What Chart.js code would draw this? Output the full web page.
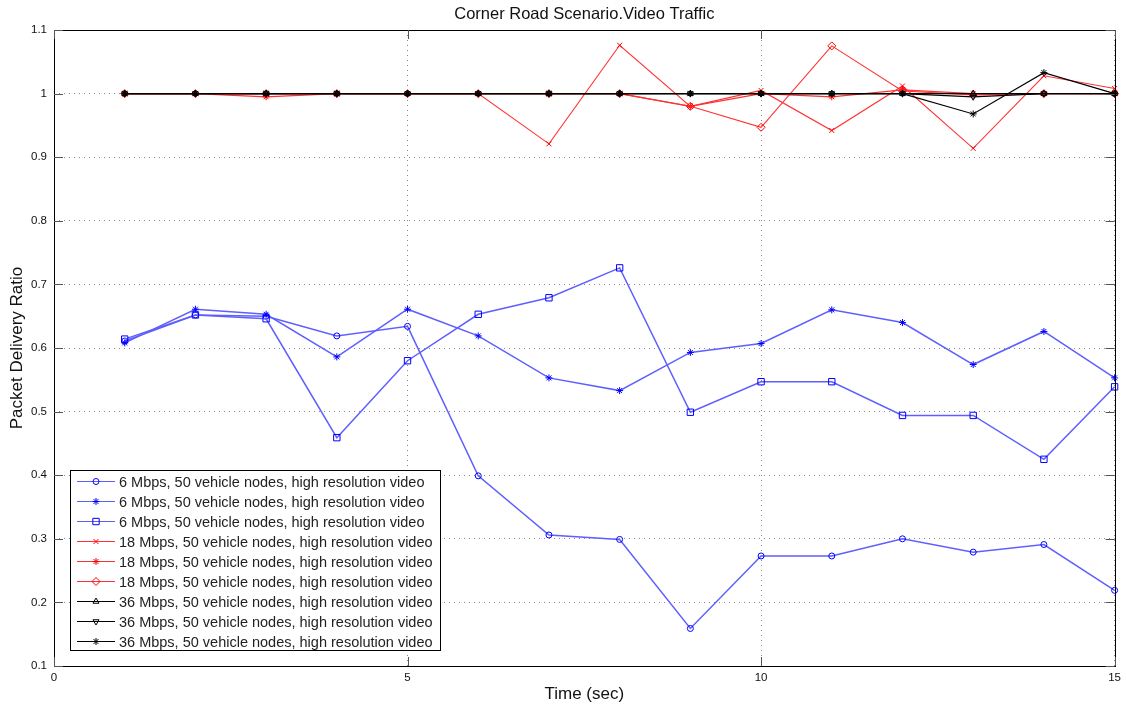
<!DOCTYPE html>
<html>
<head>
<meta charset="utf-8">
<script src="https://cdn.jsdelivr.net/npm/chart.js@4/dist/chart.umd.min.js"></script>
<style>
  body { margin: 0; background: #fff; }
  #wrap { width: 1126px; height: 708px; }
</style>
</head>
<body>
<div id="wrap"><canvas id="grafico" width="1126" height="708"></canvas></div>
<script>
// time (sec)
const tempos = [1,2,3,4,5,6,7,8,9,10,11,12,13,14,15];
const xTicks = [0,5,10,15];
const yTicks = [0.1,0.2,0.3,0.4,0.5,0.6,0.7,0.8,0.9,1.0,1.1];

const legenda = [
  '6 Mbps, 50 vehicle nodes, high resolution video',
  '6 Mbps, 50 vehicle nodes, high resolution video',
  '6 Mbps, 50 vehicle nodes, high resolution video',
  '18 Mbps, 50 vehicle nodes, high resolution video',
  '18 Mbps, 50 vehicle nodes, high resolution video',
  '18 Mbps, 50 vehicle nodes, high resolution video',
  '36 Mbps, 50 vehicle nodes, high resolution video',
  '36 Mbps, 50 vehicle nodes, high resolution video',
  '36 Mbps, 50 vehicle nodes, high resolution video'
];

// 6 Mbps
const azulCirculo = [0.611,0.652,0.650,0.619,0.634,0.399,0.306,0.299,0.159,0.273,0.273,0.300,0.279,0.291,0.219];
const azulEstrela = [0.608,0.661,0.653,0.586,0.661,0.619,0.553,0.533,0.593,0.607,0.660,0.640,0.574,0.626,0.553];
const azulQuadrado = [0.614,0.652,0.646,0.459,0.580,0.653,0.679,0.726,0.499,0.547,0.547,0.494,0.494,0.425,0.539];
// 18 Mbps
const vermelhoX = [1,1,1,1,1,1,0.921,1.076,0.980,1.005,0.942,1.012,0.914,1.028,1.008];
const vermelhoEstrela = [1,1,0.995,1,1,1,1,1,0.980,1.000,0.995,1.006,1.000,1.000,1.000];
const vermelhoLosango = [1,1,1,1,1,1,1,1,0.980,0.947,1.075,1.004,0.998,1.000,1.000];
// 36 Mbps
const pretoTriangulo = [1,1,1,1,1,1,1,1,1,1,1,1,1,1,1];
const pretoTrianguloInv = [1,1,1,1,1,1,1,1,1,1,1,1,0.995,1,1];
const pretoEstrela = [1,1,1,1,1,1,1,1,1,1,1,1,0.968,1.033,1.000];

const azul = 'rgb(95,95,255)';
const vermelho = 'rgb(255,50,50)';
const preto = '#000';

const raios = { circle: 3, star: 3.5, rect: 4.5, crossRot: 3.5, rectRot: 4, triangle: 3.5 };

function serie(i, valores, cor, marcador, pontoCor, rot, larg) {
  return {
    label: legenda[i],
    data: tempos.map((t, k) => ({x: t, y: valores[k]})),
    borderColor: cor,
    borderWidth: larg,
    backgroundColor: 'transparent',
    pointStyle: marcador,
    pointRotation: rot || 0,
    pointRadius: raios[marcador],
    pointBorderWidth: 1,
    pointBorderColor: pontoCor,
    pointBackgroundColor: marcador === 'star' ? pontoCor : 'rgba(0,0,0,0)',
    tension: 0,
    clip: false,
    order: 8 - i
  };
}

const fonte = 'Liberation Sans, Arial, sans-serif';

// legend box drawn inside the plot, like the original
const caixaLegenda = {
  id: 'caixaLegenda',
  afterDraw(chart) {
    const ctx = chart.ctx;
    const x0 = 70, y0 = 470, w = 370, h = 180;
    ctx.save();
    ctx.fillStyle = '#fff';
    ctx.fillRect(x0, y0, w, h);
    ctx.strokeStyle = '#000';
    ctx.lineWidth = 1;
    ctx.strokeRect(x0 + 0.5, y0 + 0.5, w, h);
    ctx.font = '14.5px ' + fonte;
    ctx.textBaseline = 'middle';
    chart.data.datasets.forEach((ds, i) => {
      const y = y0 + 11.5 + i * 20;
      ctx.strokeStyle = ds.borderColor;
      ctx.lineWidth = 1.2;
      ctx.beginPath();
      ctx.moveTo(77, y);
      ctx.lineTo(115, y);
      ctx.stroke();
      ctx.strokeStyle = ds.pointBorderColor;
      ctx.fillStyle = ds.pointBackgroundColor;
      ctx.lineWidth = 1;
      Chart.helpers.drawPoint(ctx, {pointStyle: ds.pointStyle, rotation: ds.pointRotation, radius: ds.pointRadius, borderWidth: 1}, 96, y);
      ctx.fillStyle = '#222';
      ctx.fillText(ds.label, 119, y + 1);
    });
    ctx.restore();
  }
};

// box around the axes and inward tick marks
const moldura = {
  id: 'moldura',
  afterDatasetsDraw(chart) {
    const {ctx, chartArea: a, scales} = chart;
    ctx.save();
    ctx.strokeStyle = '#000';
    ctx.lineWidth = 1;
    ctx.strokeRect(Math.round(a.left) + 0.5, Math.round(a.top) + 0.5, Math.round(a.right - a.left), Math.round(a.bottom - a.top));
    ctx.strokeStyle = '#555';
    ctx.beginPath();
    xTicks.forEach(v => {
      const px = Math.round(scales.x.getPixelForValue(v)) + 0.5;
      ctx.moveTo(px, a.bottom); ctx.lineTo(px, a.bottom - 9);
      ctx.moveTo(px, a.top); ctx.lineTo(px, a.top + 9);
    });
    yTicks.forEach(v => {
      const py = Math.round(scales.y.getPixelForValue(v)) + 0.5;
      ctx.moveTo(a.left, py); ctx.lineTo(a.left + 9, py);
      ctx.moveTo(a.right, py); ctx.lineTo(a.right - 9, py);
    });
    ctx.stroke();
    ctx.restore();
  }
};

const ctxGrafico = document.getElementById('grafico');
const config = {
  type: 'line',
  data: {
    datasets: [
      serie(0, azulCirculo, azul, 'circle', '#0000ff', 0, 1.5),
      serie(1, azulEstrela, azul, 'star', '#0000ff', 0, 1.5),
      serie(2, azulQuadrado, azul, 'rect', '#0000ff', 0, 1.5),
      serie(3, vermelhoX, vermelho, 'crossRot', '#ff0000', 0, 1.1),
      serie(4, vermelhoEstrela, vermelho, 'star', '#ff0000', 0, 1.3),
      serie(5, vermelhoLosango, vermelho, 'rectRot', '#ff0000', 0, 1.1),
      serie(6, pretoTriangulo, preto, 'triangle', '#000', 0, 1.2),
      serie(7, pretoTrianguloInv, preto, 'triangle', '#000', 180, 1.2),
      serie(8, pretoEstrela, preto, 'star', '#000', 0, 1.2)
    ]
  },
  options: {
    responsive: false,
    devicePixelRatio: 1,
    animation: false,
    layout: { padding: { left: 0, right: 10, top: 0, bottom: 0 } },
    plugins: {
      legend: { display: false },
      tooltip: { enabled: false },
      title: {
        display: true,
        fullSize: false,
        text: 'Corner Road Scenario.Video Traffic',
        color: '#111',
        font: { family: fonte, size: 16.5, weight: 'normal' },
        padding: { top: 5, bottom: 5.2 }
      }
    },
    scales: {
      x: {
        type: 'linear',
        min: 0, max: 15,
        afterFit: s => { s.height = 42; },
        afterBuildTicks: s => { s.ticks = xTicks.map(v => ({value: v})); },
        grid: { color: '#888', drawTicks: false },
        border: { display: false, dash: [1, 4] },
        ticks: { color: '#111', font: { family: fonte, size: 11.5 }, padding: 5, maxRotation: 0 },
        title: { display: true, text: 'Time (sec)', color: '#111', font: { family: fonte, size: 17 }, padding: { top: 0, bottom: 3 } }
      },
      y: {
        min: 0.1, max: 1.1,
        afterFit: s => { s.width = 54; },
        afterBuildTicks: s => { s.ticks = yTicks.map(v => ({value: v})); },
        grid: { color: '#888', drawTicks: false },
        border: { display: false, dash: [1, 4] },
        ticks: { color: '#111', font: { family: fonte, size: 11.5 }, padding: 7, callback: v => String(+v.toFixed(1)) },
        title: { display: true, text: 'Packet Delivery Ratio', color: '#111', font: { family: fonte, size: 17 }, padding: { top: 7, bottom: 0 } }
      }
    }
  },
  plugins: [moldura, caixaLegenda]
};
let chartGrafico = new Chart(ctxGrafico, config);
</script>
</body>
</html>
